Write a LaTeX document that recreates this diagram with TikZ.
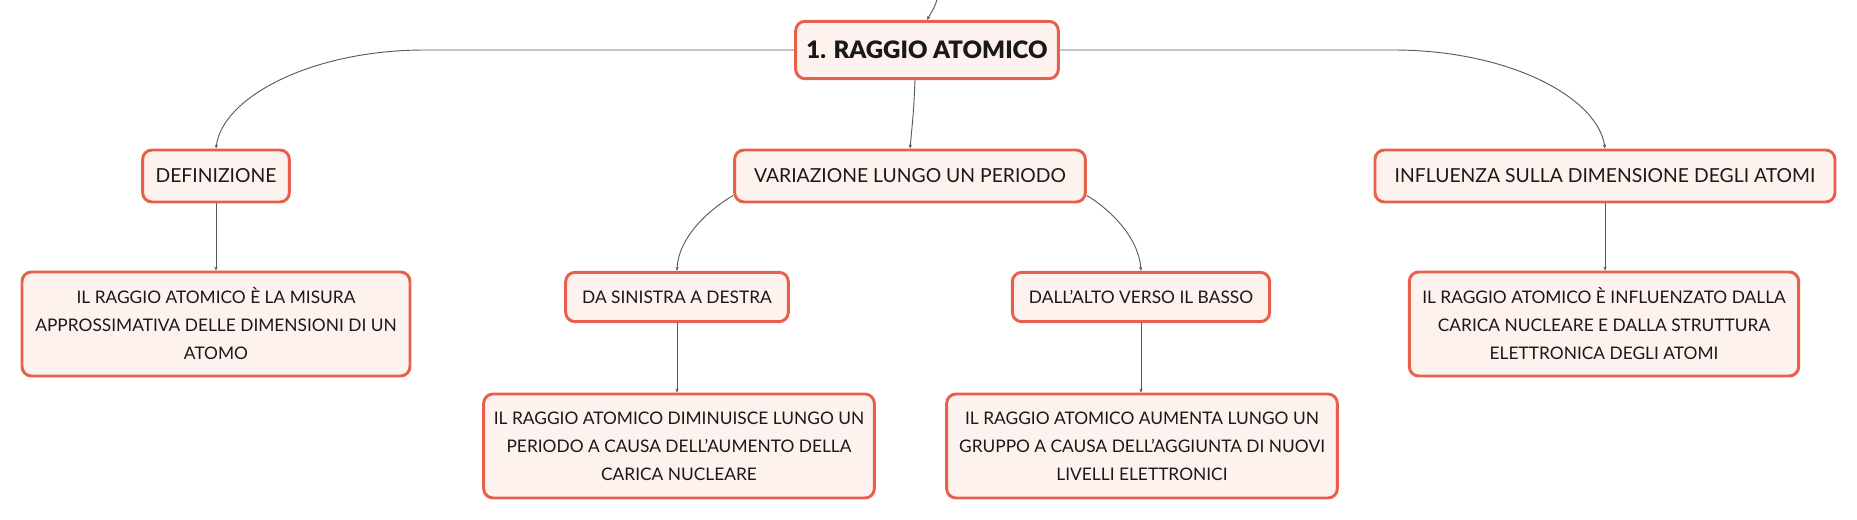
\documentclass[tikz,border=0pt]{standalone}
\usepackage{fontspec}
\setmainfont{Lato}
\newfontfamily\heavyfont{Lato Black}
\usetikzlibrary{arrows.meta}
\definecolor{boxred}{RGB}{232,96,76}
\definecolor{boxfill}{RGB}{253,242,238}
\definecolor{linegray}{RGB}{90,90,90}
\tikzset{every picture/.style={line width=0.75pt}}
\tikzset{
  topic/.style={draw=boxred, fill=boxfill, line width=2.2pt, rounded corners=7pt,
    align=center, inner sep=0pt, text=black!90, font=\fontsize{14.5}{20}\selectfont},
  leaf/.style={topic, font=\fontsize{13}{21}\selectfont},
  rootbox/.style={topic, font=\fontsize{18}{22}\heavyfont},
  conn/.style={draw=linegray, line width=0.7pt, -{Stealth[length=3pt,width=2.5pt]}}
}

\begin{document}
\begin{tikzpicture}[x=0.75pt,y=0.75pt,yscale=-1,xscale=1]
\useasboundingbox (0,0) rectangle (1857,520);

% Text Node
\node [rootbox, minimum width=197pt, minimum height=43pt] (root) at (927,50) {1. RAGGIO ATOMICO};
% Text Node
\node [topic, minimum width=110pt, minimum height=39pt] (def) at (216,176) {DEFINIZIONE};
% Text Node
\node [topic, minimum width=263pt, minimum height=39pt] (var) at (910,176) {VARIAZIONE LUNGO UN PERIODO};
% Text Node
\node [topic, minimum width=345pt, minimum height=39pt] (infl) at (1605,176) {INFLUENZA SULLA DIMENSIONE DEGLI ATOMI};
% Text Node
\node [leaf, minimum width=291pt, minimum height=78pt] (defc) at (216,324) {IL RAGGIO ATOMICO È LA MISURA\\APPROSSIMATIVA DELLE DIMENSIONI DI UN\\ATOMO};
% Text Node
\node [leaf, minimum width=167pt, minimum height=37pt] (sin) at (677,297) {DA SINISTRA A DESTRA};
% Text Node
\node [leaf, minimum width=193pt, minimum height=37pt] (alto) at (1141,297) {DALL’ALTO VERSO IL BASSO};
% Text Node
\node [leaf, minimum width=293pt, minimum height=78pt] (sinc) at (679,446) {IL RAGGIO ATOMICO DIMINUISCE LUNGO UN\\PERIODO A CAUSA DELL’AUMENTO DELLA\\CARICA NUCLEARE};
% Text Node
\node [leaf, minimum width=293pt, minimum height=78pt] (altoc) at (1142,446) {IL RAGGIO ATOMICO AUMENTA LUNGO UN\\GRUPPO A CAUSA DELL’AGGIUNTA DI NUOVI\\LIVELLI ELETTRONICI};
% Text Node
\node [leaf, minimum width=292pt, minimum height=78pt] (inflc) at (1604,324) {IL RAGGIO ATOMICO È INFLUENZATO DALLA\\CARICA NUCLEARE E DALLA STRUTTURA\\ELETTRONICA DEGLI ATOMI};

\coordinate (up) at (937,0);
\coordinate (lbend) at (425,50);
\coordinate (rbend) at (1393,50);

% Connection
\draw [conn] (up) .. controls (934,8) .. (root.north);
% Connection
\draw [conn] (root.west) -- (lbend) .. controls (310,50) and (222,98) .. (def.north);
% Connection
\draw [conn] (root.east) -- (rbend) .. controls (1510,50) and (1598,98) .. (infl.north);
% Connection
\draw [conn] ([xshift=-9pt]root.south) .. controls ([xshift=-10pt]root.south |- 0,110) .. (var.north);
% Connection
\draw [conn] (var.south west) ++(0,-8) .. controls (705,212) and (678,240) .. (sin.north);
% Connection
\draw [conn] (var.south east) ++(0,-8) .. controls (1114,212) and (1139,240) .. (alto.north);
% Connection
\draw [conn] (def) -- (defc);
% Connection
\draw [conn] (sin) -- (sin |- sinc.north);
% Connection
\draw [conn] (alto) -- (alto |- altoc.north);
% Connection
\draw [conn] (infl) -- (infl |- inflc.north);

\end{tikzpicture}
\end{document}
